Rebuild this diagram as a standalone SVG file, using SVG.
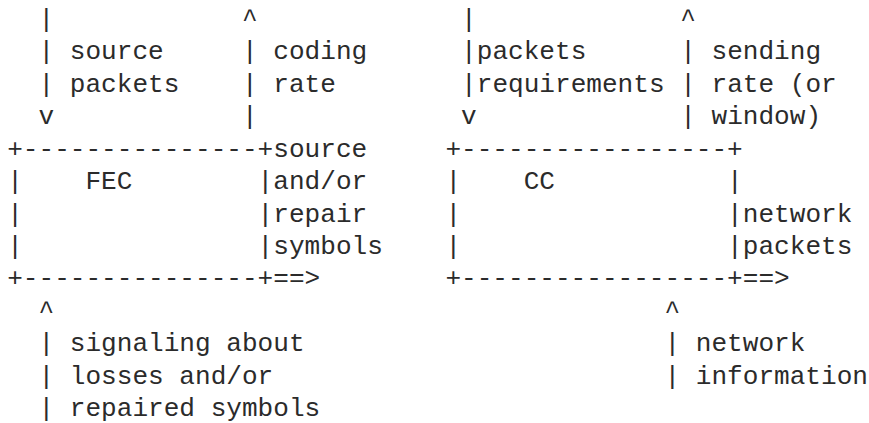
<svg xmlns="http://www.w3.org/2000/svg" width="869" height="423" viewBox="0 0 869 423" xml:space="preserve">
<style>
text { font-family: "Liberation Mono", "DejaVu Sans Mono", monospace; font-size: 26.08px; fill: #2b2b2b; white-space: pre; }
</style>
<rect width="869" height="423" fill="#ffffff"/>
<g id="connectors">
  <text x="38.5" y="26.8">|</text>
  <text x="38.5" y="59.25">| source</text>
  <text x="38.5" y="91.7">| packets</text>
  <text x="38.5" y="124.15">v</text>
  <text x="242.0" y="26.8">^</text>
  <text x="242.0" y="59.25">| coding</text>
  <text x="242.0" y="91.7">| rate</text>
  <text x="242.0" y="124.15">|</text>
  <text x="461.1" y="26.8">|</text>
  <text x="461.1" y="59.25">|packets</text>
  <text x="461.1" y="91.7">|requirements</text>
  <text x="461.1" y="124.15">v</text>
  <text x="680.2" y="26.8">^</text>
  <text x="680.2" y="59.25">| sending</text>
  <text x="680.2" y="91.7">| rate (or</text>
  <text x="680.2" y="124.15">| window)</text>
  <text x="273.3" y="156.6">source</text>
  <text x="273.3" y="189.05">and/or</text>
  <text x="273.3" y="221.5">repair</text>
  <text x="273.3" y="253.95">symbols</text>
  <text x="273.3" y="286.4">==&gt;</text>
  <text x="742.8" y="221.5">network</text>
  <text x="742.8" y="253.95">packets</text>
  <text x="742.8" y="286.4">==&gt;</text>
  <text x="38.5" y="318.85">^</text>
  <text x="38.5" y="351.3">| signaling about</text>
  <text x="38.5" y="383.75">| losses and/or</text>
  <text x="38.5" y="416.2">| repaired symbols</text>
  <text x="664.5" y="318.85">^</text>
  <text x="664.5" y="351.3">| network</text>
  <text x="664.5" y="383.75">| information</text>
</g>
<g id="fec">
  <text x="7.2" y="156.6">+---------------+</text>
  <text x="7.2" y="189.05">|    FEC</text>
  <text x="257.6" y="189.05">|</text>
  <text x="7.2" y="221.5">|</text>
  <text x="257.6" y="221.5">|</text>
  <text x="7.2" y="253.95">|</text>
  <text x="257.6" y="253.95">|</text>
  <text x="7.2" y="286.4">+---------------+</text>
</g>
<g id="cc">
  <text x="445.4" y="156.6">+-----------------+</text>
  <text x="445.4" y="189.05">|    CC</text>
  <text x="727.1" y="189.05">|</text>
  <text x="445.4" y="221.5">|</text>
  <text x="727.1" y="221.5">|</text>
  <text x="445.4" y="253.95">|</text>
  <text x="727.1" y="253.95">|</text>
  <text x="445.4" y="286.4">+-----------------+</text>
</g>
</svg>
